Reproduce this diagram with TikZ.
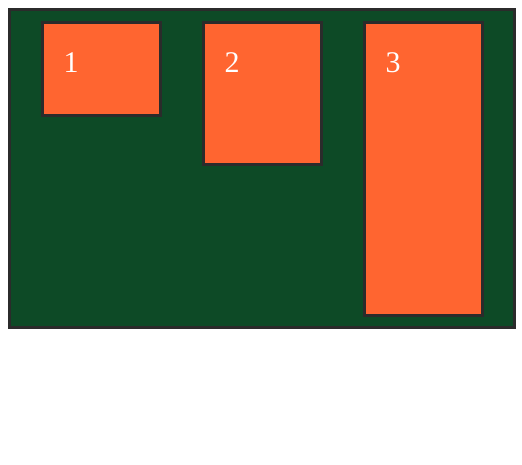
\documentclass[tikz,border=0pt]{standalone}
\usepackage{fontspec}
\setmainfont{Liberation Serif}
\usetikzlibrary{positioning}
\definecolor{boardgreen}{RGB}{13,74,38}
\definecolor{tileorange}{RGB}{255,101,48}
\definecolor{edgegray}{RGB}{43,43,43}
\tikzset{
x=1pt, y=1pt, % one unit is one pixel of the reference
every node/.style={inner sep=0pt, outer sep=0pt}, % boxes sit exactly on their sizes
board/.style={draw=edgegray, line width=3pt, fill=boardgreen, anchor=north west},
tile/.style={draw=edgegray, line width=3pt, fill=tileorange, minimum width=118pt},
tag/.style={text=white, font=\fontsize{30}{36}\selectfont, anchor=base},
}
\begin{document}
\begin{tikzpicture}
                \useasboundingbox (0,0) rectangle (522,-465);
                \node[board, minimum width=504.5pt, minimum height=318pt] (board) at (9.5,-9.5) {};
                \node[tile, minimum height=93pt, anchor=north west] (t1) at (42.5,-22.5) {};
                \node[tile, minimum height=142pt, right=42.5pt of t1.north east, anchor=north west] (t2) {};
                \node[tile, minimum height=292.5pt, right=43pt of t2.north east, anchor=north west] (t3) {};
                \node[tag] (n1) at ([xshift=28.5pt, yshift=-50.5pt]t1.north west) {1};
                \node[tag] (n2) at ([xshift=29pt, yshift=-50.5pt]t2.north west) {2};
                \node[tag] (n3) at ([xshift=29pt, yshift=-50.5pt]t3.north west) {3};
\end{tikzpicture}
\end{document}
